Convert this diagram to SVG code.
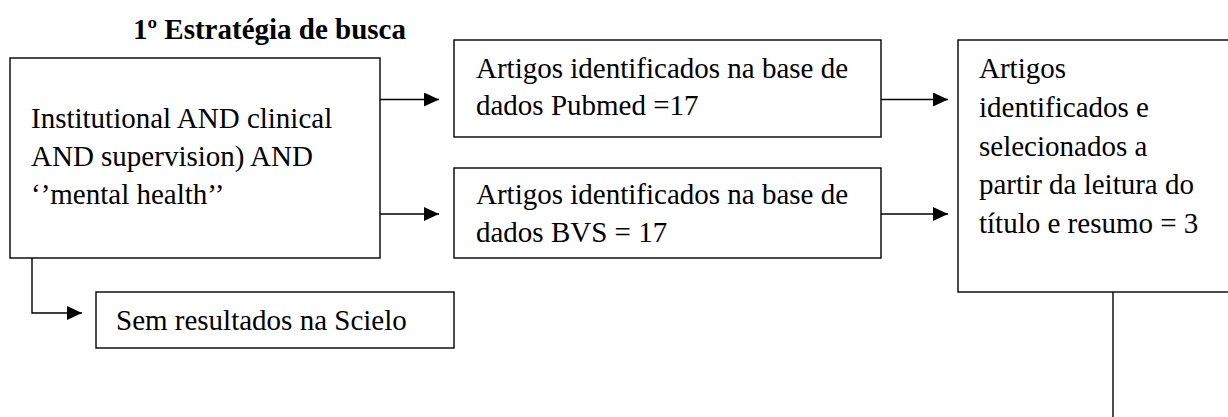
<svg xmlns="http://www.w3.org/2000/svg" width="1228" height="417" viewBox="0 0 1228 417">
<style>
.box{fill:#fff;stroke:#000;stroke-width:1.4}
.t{font-family:"Liberation Serif","Times New Roman","DejaVu Serif",serif;font-size:29px;font-weight:normal;fill:#000}
.b{font-weight:bold}
.c{fill:none;stroke:#000;stroke-width:1.4}
</style>
<defs>
<marker id="ah" markerWidth="15" markerHeight="14" refX="15" refY="7" orient="auto" markerUnits="userSpaceOnUse">
<path d="M0,0 L15,7 L0,14 Z" fill="#000"/>
</marker>
</defs>
<text class="t b" x="133" y="39">1º Estratégia de busca</text>
<g id="n-query">
<rect class="box" x="10" y="58" width="370" height="200"/>
<text class="t" x="31" y="128">Institutional AND clinical</text>
<text class="t" x="31" y="166">AND supervision) AND</text>
<text class="t" x="31" y="204">‘’mental health’’</text>
</g>
<g id="n-pubmed">
<rect class="box" x="454" y="40" width="427" height="97"/>
<text class="t" x="476" y="78">Artigos identificados na base de</text>
<text class="t" x="476" y="115">dados Pubmed =17</text>
</g>
<g id="n-bvs">
<rect class="box" x="454" y="168" width="427" height="90"/>
<text class="t" x="476" y="204">Artigos identificados na base de</text>
<text class="t" x="476" y="242">dados BVS = 17</text>
</g>
<g id="n-scielo">
<rect class="box" x="96" y="292" width="358" height="56"/>
<text class="t" x="116" y="330">Sem resultados na Scielo</text>
</g>
<g id="n-selected">
<rect class="box" x="958" y="40" width="290" height="252"/>
<text class="t" x="979" y="78">Artigos</text>
<text class="t" x="979" y="117">identificados e</text>
<text class="t" x="979" y="156">selecionados a</text>
<text class="t" x="979" y="194">partir da leitura do</text>
<text class="t" x="979" y="233">título e resumo = 3</text>
</g>
<g id="connectors">
<path class="c" d="M380,99.5 H439" marker-end="url(#ah)"/>
<path class="c" d="M380,214 H439" marker-end="url(#ah)"/>
<path class="c" d="M32,258 V313 H82" marker-end="url(#ah)"/>
<path class="c" d="M881,99.5 H948" marker-end="url(#ah)"/>
<path class="c" d="M881,214 H948" marker-end="url(#ah)"/>
<path class="c" d="M1113,292 V420"/>
</g>
</svg>
